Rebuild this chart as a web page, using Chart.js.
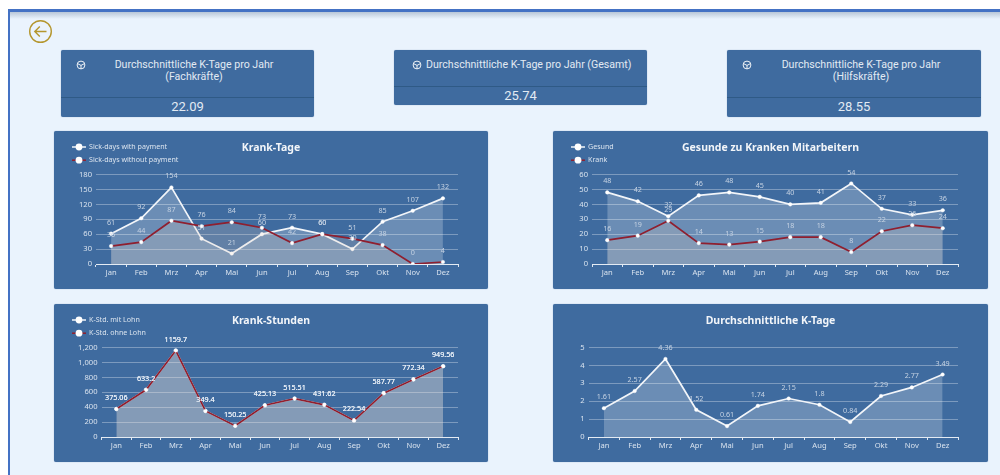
<!DOCTYPE html>
<html lang="de">
<head>
<meta charset="utf-8">
<title>K-Tage</title>
<script src="https://cdn.jsdelivr.net/npm/chart.js@4/dist/chart.umd.min.js"></script>
<style>
html,body{margin:0;padding:0;width:1000px;height:475px;overflow:hidden;background:#fff}
#page{position:absolute;left:0;top:0;width:1000px;height:475px;filter:blur(0.45px)}
#frame{position:absolute;left:8px;top:9px;width:992px;height:466px;box-sizing:border-box;background:#eaf3fd;border-left:2px solid #4472c4;border-top:3px solid #4472c4}
#shade{position:absolute;left:10px;top:12px;width:990px;height:7px;background:linear-gradient(#b9c7d8,#eaf3fd)}
.kpi{position:absolute;background:#3f6b9f;border-radius:2px;color:#e2eaf3;font-family:Roboto,sans-serif;box-shadow:0 0 1px #6f8fb5}
.kpi .t{position:absolute;font-size:10.6px;line-height:11.7px;text-align:center;white-space:nowrap}
.kpi .v{position:absolute;font-size:13px;line-height:16px;text-align:center;white-space:nowrap}
.kpi .d{position:absolute;left:0;right:0;height:1px;background:#2f5a86}
.kpi svg{position:absolute}
.card{position:absolute;background:#3f6b9f;border-radius:2px;box-shadow:0 0 1px #6f8fb5}
.card canvas{display:block}
#back{position:absolute;left:28px;top:19px}
</style>
</head>
<body>
<div id="page">
<div id="frame"></div><div id="shade"></div>
<svg id="back" width="25" height="25" viewBox="0 0 25 25" fill="none" stroke="#b4962e" stroke-width="1.4"><circle cx="12.5" cy="12.5" r="10.8"/><path d="M18.5 12.5H6.8M11.8 7.5l-5 5 5 5"/></svg>

<div class="kpi" style="left:61px;top:50px;width:253px;height:67px">
<svg style="left:15px;top:10px" width="10" height="10" viewBox="0 0 10 10" fill="none" stroke="#f0f4f8" stroke-width="1"><circle cx="5" cy="5" r="3.9"/><path d="M1.5 3.6 5 5.4l3.5-1.8M5 5.4v3.4"/></svg>
<div class="t" style="left:0;width:266px;top:9px">Durchschnittliche K-Tage pro Jahr<br>(Fachkräfte)</div>
<div class="d" style="top:47px"></div>
<div class="v" style="left:0;width:253px;top:49px">22.09</div>
</div>
<div class="kpi" style="left:394px;top:50px;width:253px;height:55px">
<svg style="left:18px;top:10px" width="10" height="10" viewBox="0 0 10 10" fill="none" stroke="#f0f4f8" stroke-width="1"><circle cx="5" cy="5" r="3.9"/><path d="M1.5 3.6 5 5.4l3.5-1.8M5 5.4v3.4"/></svg>
<div class="t" style="left:32px;top:9px">Durchschnittliche K-Tage pro Jahr (Gesamt)</div>
<div class="d" style="top:36px"></div>
<div class="v" style="left:0;width:253px;top:38px">25.74</div>
</div>
<div class="kpi" style="left:727px;top:50px;width:254px;height:67px">
<svg style="left:15px;top:10px" width="10" height="10" viewBox="0 0 10 10" fill="none" stroke="#f0f4f8" stroke-width="1"><circle cx="5" cy="5" r="3.9"/><path d="M1.5 3.6 5 5.4l3.5-1.8M5 5.4v3.4"/></svg>
<div class="t" style="left:0;width:268px;top:9px">Durchschnittliche K-Tage pro Jahr<br>(Hilfskräfte)</div>
<div class="d" style="top:47px"></div>
<div class="v" style="left:0;width:254px;top:49px">28.55</div>
</div>

<div class="card" style="left:54px;top:131px;width:434px;height:158px"><canvas id="c1" width="434" height="158"></canvas></div>
<div class="card" style="left:553px;top:131px;width:435px;height:158px"><canvas id="c2" width="435" height="158"></canvas></div>
<div class="card" style="left:54px;top:304px;width:434px;height:158px"><canvas id="c3" width="434" height="158"></canvas></div>
<div class="card" style="left:553px;top:304px;width:435px;height:158px"><canvas id="c4" width="435" height="158"></canvas></div>
</div>

<script>
const months = ['Jan','Feb','Mrz','Apr','Mai','Jun','Jul','Aug','Sep','Okt','Nov','Dez'];

const sickWithPay = [61,92,154,51,21,60,73,60,30,85,107,132];
const sickWithoutPay = [36,44,87,76,84,73,42,60,51,38,0,4];

const healthy = [48,42,32,46,48,45,40,41,54,37,33,36];
const sick = [16,19,29,14,13,15,18,18,8,22,26,24];

const hoursWithPay = [375.06,633.2,1159.7,349.4,150.25,425.13,515.51,431.62,222.54,587.77,772.34,949.56];
const hoursWithoutPay = [375.06,633.2,1159.7,349.4,150.25,425.13,515.51,431.62,222.54,587.77,772.34,949.56];

const avgDays = [1.61,2.57,4.36,1.52,0.61,1.74,2.15,1.8,0.84,2.29,2.77,3.49];

const FONT = '"Noto Sans", sans-serif';
const WHITE = '#f2f5f9', RED = '#8f1f2f';

const valueLabels = {
  id:'valueLabels',
  afterDatasetsDraw(chart, args, opts){
    const ctx = chart.ctx;
    ctx.save();
    ctx.font = '7.2px ' + FONT;
    ctx.textAlign = 'center';
    ctx.textBaseline = 'middle';
    ctx.fillStyle = opts.color;
    chart.data.datasets.forEach((ds,i)=>{
      chart.getDatasetMeta(i).data.forEach((pt,j)=>{
        ctx.fillText(String(ds.data[j]), pt.x, pt.y - 11);
      });
    });
    ctx.restore();
  }
};

const sideLegend = {
  id:'sideLegend',
  afterDraw(chart, args, opts){
    if(!opts.show) return;
    const ctx = chart.ctx;
    ctx.save();
    ctx.font = '7.1px ' + FONT;
    ctx.textBaseline = 'middle';
    chart.data.datasets.forEach((ds,i)=>{
      const y = opts.y + i*13.2;
      ctx.strokeStyle = ds.borderColor;
      ctx.lineWidth = 1.5;
      ctx.beginPath(); ctx.moveTo(opts.x,y); ctx.lineTo(opts.x+14,y); ctx.stroke();
      ctx.fillStyle = '#fff';
      ctx.beginPath(); ctx.arc(opts.x+7,y,3.4,0,Math.PI*2); ctx.fill();
      ctx.fillStyle = '#dbe4ef';
      ctx.fillText(ds.label, opts.x+17, y);
    });
    ctx.restore();
  }
};

function series(label, data, color, fill, order){
  return {label, data, borderColor:color, backgroundColor:fill, borderWidth:1.7, tension:0,
    fill:'origin', pointRadius:1.8, pointHoverRadius:1.8, pointBackgroundColor:'#fff',
    pointBorderColor:'#fff', pointBorderWidth:0.4, order};
}

function build(id, datasets, c){
  new Chart(document.getElementById(id), {
    type:'line',
    data:{labels:months, datasets},
    plugins:[valueLabels, sideLegend],
    options:{
      responsive:false, animation:false, locale:'en-US',
      layout:{padding:0},
      plugins:{
        legend:{display:false}, tooltip:{enabled:false},
        title:{display:true, text:c.title, color:'#f2f5f9',
          font:{family:FONT,size:10.5,weight:'bold',lineHeight:1.2},
          padding:{top:11.2,bottom:19.7}},
        valueLabels:{color:c.labelColor||'#c6d3e3'},
        sideLegend:{show:datasets.length>1, x:c.legendX, y:16}
      },
      scales:{
        x:{offset:true, afterFit(s){s.height=25;},
          grid:{display:true,offset:true,drawOnChartArea:false,drawTicks:true,tickLength:3,color:'#dfe7f0'},
          border:{display:true,color:'#e4ebf3',width:1},
          ticks:{color:'#d8e2ee',font:{family:FONT,size:7.6},padding:1,maxRotation:0,autoSkip:false}},
        y:{min:0,max:c.max,afterFit(s){s.width=c.left;},
          grid:{color:'rgba(255,255,255,0.32)',drawTicks:false,lineWidth:1},
          border:{display:false},
          ticks:{stepSize:c.step,color:'#d8e2ee',font:{family:FONT,size:7.6},padding:4,autoSkip:false}},
        rightGap:{position:'right',display:true,afterFit(s){s.width=30;},
          grid:{display:false,drawTicks:false},border:{display:false},ticks:{display:false}}
      }
    }
  });
}

const FILL_W = 'rgba(255,255,255,0.23)', FILL_R = 'rgba(225,205,190,0.22)';

build('c1',[series('Sick-days with payment',sickWithPay,WHITE,FILL_W,2),
            series('Sick-days without payment',sickWithoutPay,RED,FILL_R,1)],
      {title:'Krank-Tage',max:180,step:30,left:42,legendX:18});
build('c2',[series('Gesund',healthy,WHITE,FILL_W,2),
            series('Krank',sick,RED,FILL_R,1)],
      {title:'Gesunde zu Kranken Mitarbeitern',max:60,step:10,left:39,legendX:18});
build('c3',[series('K-Std. mit Lohn',hoursWithPay,WHITE,FILL_W,2),
            series('K-Std. ohne Lohn',hoursWithoutPay,RED,FILL_R,1)],
      {title:'Krank-Stunden',max:1200,step:200,left:47.5,legendX:18,labelColor:'#e6edf5'});
build('c4',[series('K-Tage',avgDays,WHITE,FILL_W,1)],
      {title:'Durchschnittliche K-Tage',max:5,step:1,left:35.5});
</script>
</body>
</html>
